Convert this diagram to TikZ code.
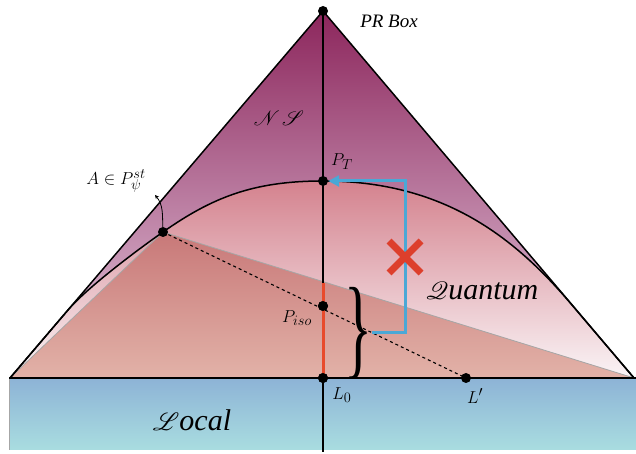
\documentclass[tikz,border=0pt]{standalone}
\usepackage{fontspec}
\setmainfont{Liberation Serif}
\usepackage{mathrsfs}
\usetikzlibrary{arrows.meta,calc}
\definecolor{nstop}{RGB}{140,38,92}
\definecolor{nsbot}{RGB}{230,205,225}
\definecolor{qtop}{RGB}{212,130,142}
\definecolor{qbot}{RGB}{250,244,246}
\definecolor{dtop}{RGB}{200,120,120}
\definecolor{dbot}{RGB}{226,178,168}
\definecolor{ltop}{RGB}{141,179,214}
\definecolor{lbot}{RGB}{169,221,224}
\definecolor{redl}{RGB}{232,74,44}
\definecolor{xred}{RGB}{221,63,44}
\definecolor{bluel}{RGB}{74,168,214}
\tikzset{
  dot/.style={circle, fill=black, inner sep=0pt, minimum size=10pt},
  lbl/.style={inner sep=1pt, font=\fontsize{19}{22}\selectfont},
  big/.style={inner sep=1pt, font=\fontsize{30}{34}\selectfont\itshape},
  edge/.style={line width=1.5pt, black},
  grayedge/.style={line width=0.8pt, gray!70},
  redline/.style={line width=3pt, redl},
  blueline/.style={line width=3pt, bluel},
  xmark/.style={line width=7pt, xred},
  dashline/.style={line width=1.1pt, dash pattern=on 3pt off 3pt}
}
\begin{document}
\begin{tikzpicture}[x=1pt,y=1pt]
\useasboundingbox (0,0) rectangle (636,454);
% key points
\coordinate (apexc) at (323,443);
\coordinate (lc) at (10,76);
\coordinate (rc) at (634,76);
\coordinate (ltouch) at (68,144);
\coordinate (rtouch) at (572,149);
\coordinate (Ac) at (163,222);
\coordinate (PTc) at (323,273);
\coordinate (redtop) at (323,171);
\coordinate (bandbl) at (9,4);
\coordinate (bandtl) at (9,76);
\coordinate (bandtr) at (636,76);
\coordinate (vbot) at (323,2);
\coordinate (bluecorner) at (405,121);
\coordinate (xc) at (405,197);
% regions
\shade[top color=nstop, bottom color=nsbot] (lc) -- (apexc) -- (rc) -- cycle;
\shade[top color=qtop, bottom color=qbot] (lc) -- (ltouch)
  .. controls (87.5,166.8) and (138.4,204.8) .. (Ac)
  .. controls (212.1,256.4) and (253,273) .. (PTc)
  .. controls (443,273) and (513.8,217.7) .. (rtouch) -- (rc) -- cycle;
\shade[top color=dtop, bottom color=dbot] (lc) -- (Ac) -- (rc) -- cycle;
\draw[grayedge] (lc) -- (Ac) -- (rc);
\shade[top color=ltop, bottom color=lbot] (bandbl) rectangle (bandtr);
\draw[grayedge] (bandbl) -- (bandtl);
% outlines
\draw[edge] (lc) -- (apexc) -- (rc);
\draw[edge] (lc) -- (ltouch)
  .. controls (87.5,166.8) and (138.4,204.8) .. (Ac)
  .. controls (212.1,256.4) and (253,273) .. (PTc)
  .. controls (443,273) and (513.8,217.7) .. (rtouch) -- (rc);
\draw[line width=1.8pt] (bandtl) -- (bandtr);
\draw[line width=1.1pt] (apexc) -- (vbot);
% dots
\node[dot] (apex) at (apexc) {};
\node[dot] (PT) at (PTc) {};
\node[dot] (A) at (Ac) {};
\node[dot] (Piso) at (323,148) {};
\node[dot] (L0) at (323,76) {};
\node[dot] (Lp) at (466,76) {};
% dashed & red
\draw[dashline] (A.center) -- (Lp.center);
\draw[redline] (redtop) -- (L0.center);
\node[dot] at (Piso) {};
\node[dot] at (L0) {};
% brace
\node[anchor=west, inner sep=0pt] (brace) at (344,121) {\resizebox*{28pt}{92pt}{\}}};
% blue arrow
\draw[blueline, -{Triangle[length=11pt,width=11pt]}] (brace.east) -- (bluecorner) |- (PT);
% cross
\draw[xmark] ($(xc)+(-16,-16)$) -- ($(xc)+(16,16)$);
\draw[xmark] ($(xc)+(-16,16)$) -- ($(xc)+(16,-16)$);
% small arrow
\coordinate (arrtip) at (155,259);
\draw[line width=0.8pt, -{Stealth[length=4pt,width=4pt]}] (A) to[out=92,in=-50] (arrtip);
% labels
\node[inner sep=1pt, font=\fontsize{19}{22}\selectfont\itshape] (prbox) at (389,433) {PR Box};
\node[inner sep=1pt, font=\fontsize{22}{26}\selectfont] (ns) at (279,336) {$\mathscr{N}\mkern2mu\mathscr{S}$};
\node[lbl] (Albl) at (116,273) {$A\in P_{\psi}^{st}$};
\node[lbl] (PTlbl) at (342,292) {$P_T$};
\node[lbl] (Pisolbl) at (297,136) {$P_{iso}$};
\node[lbl] (L0lbl) at (342,59) {$L_0$};
\node[lbl] (Lplbl) at (475,58) {$L'$};
\node[big] (quantum) at (482,163) {$\mathscr{Q}$uantum};
\node[big] (local) at (192,34) {$\mathscr{L}$ocal};
\end{tikzpicture}
\end{document}
